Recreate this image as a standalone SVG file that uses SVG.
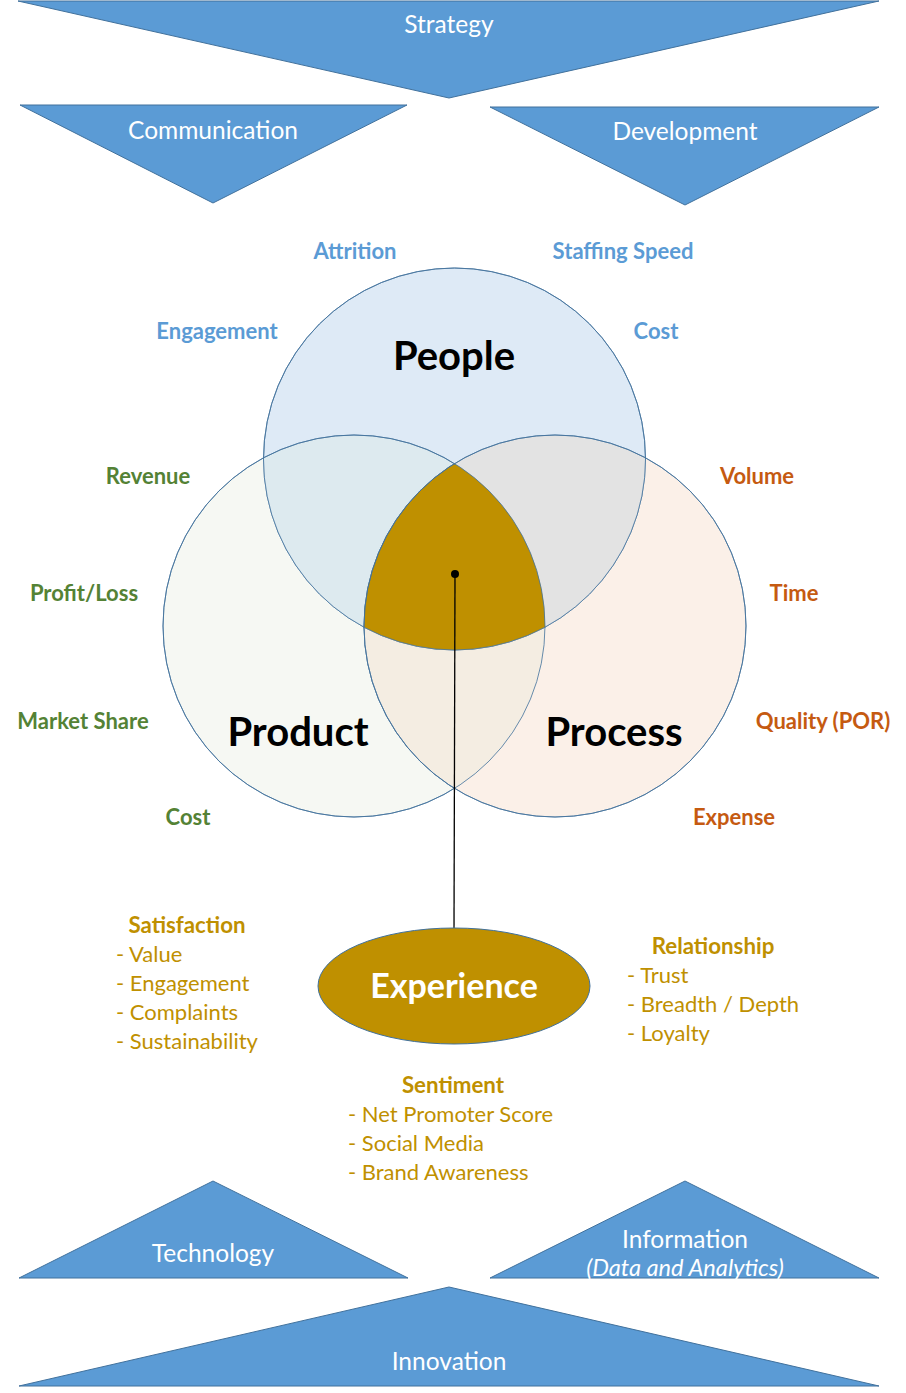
<svg xmlns="http://www.w3.org/2000/svg" width="906" height="1393" viewBox="0 0 906 1393">
<style>
text{font-family:Lato,"Open Sans","Liberation Sans",sans-serif}
.tri{fill:#5B9BD5;stroke:#41719C;stroke-width:1}
.tw{fill:#fff;font-size:24.5px;text-anchor:middle}
.sub{font-size:23.6px;font-style:italic}
.big{fill:#000;font-size:40px;font-weight:bold;text-anchor:middle}
.blue{fill:#5B9BD5;font-size:22px;font-weight:bold;text-anchor:middle}
.green{fill:#548235;font-size:22px;font-weight:bold;text-anchor:middle}
.orange{fill:#C55A11;font-size:22px;font-weight:bold;text-anchor:middle}
.gh{fill:#BF9000;font-size:22.3px;font-weight:bold;text-anchor:middle}
.gi{fill:#BF9000;font-size:22px}
.circ{stroke:#41719C;stroke-width:0.8}
</style>
<defs>
<clipPath id="cPeople"><circle cx="454.5" cy="459" r="191"/></clipPath>
<clipPath id="cProduct"><circle cx="354" cy="626" r="191"/></clipPath>
<clipPath id="cProcess"><circle cx="555" cy="626" r="191"/></clipPath>
</defs>
<g id="strategy"><polygon class="tri" points="18,1 879,1 449,98"/><text class="tw" x="449" y="33">Strategy</text></g>
<g id="communication"><polygon class="tri" points="20,105 407,105 213,203"/><text class="tw" x="213" y="139">Communication</text></g>
<g id="development"><polygon class="tri" points="490,107 879,107 685,205"/><text class="tw" x="685" y="140">Development</text></g>
<g id="venn">
<circle id="product" class="circ" cx="354" cy="626" r="191" fill="#F6F8F3"/>
<circle id="process" class="circ" cx="555" cy="626" r="191" fill="#FBF0E8"/>
<circle class="circ" cx="555" cy="626" r="191" fill="#F4EDE2" clip-path="url(#cProduct)"/>
<circle id="people" class="circ" cx="454.5" cy="459" r="191" fill="#DEEAF6"/>
<g clip-path="url(#cPeople)">
<circle class="circ" cx="354" cy="626" r="191" fill="#DDEAEF"/>
<circle class="circ" cx="555" cy="626" r="191" fill="#E3E3E3"/>
</g>
<g clip-path="url(#cPeople)"><circle cx="555" cy="626" r="191" fill="#BF9000" stroke="#41719C" stroke-width="0.8" clip-path="url(#cProduct)"/></g>
<circle cx="454.5" cy="459" r="191" fill="none" class="circ"/>
<circle cx="354" cy="626" r="191" fill="none" class="circ"/>
<circle cx="555" cy="626" r="191" fill="none" class="circ"/>
<text class="big" x="454" y="370">People</text>
<text class="big" x="298" y="746">Product</text>
<text class="big" x="614" y="746">Process</text>
</g>
<g id="people-labels">
<text class="blue" x="355" y="259">Attrition</text>
<text class="blue" x="623" y="259">Staffing Speed</text>
<text class="blue" x="217" y="339">Engagement</text>
<text class="blue" x="656" y="339">Cost</text>
</g>
<g id="product-labels">
<text class="green" x="148" y="484">Revenue</text>
<text class="green" x="84" y="601">Profit/Loss</text>
<text class="green" x="83" y="729">Market Share</text>
<text class="green" x="188" y="825">Cost</text>
</g>
<g id="process-labels">
<text class="orange" x="757" y="484">Volume</text>
<text class="orange" x="794" y="601">Time</text>
<text class="orange" x="823" y="729">Quality (POR)</text>
<text class="orange" x="734" y="825">Expense</text>
</g>
<g id="connectors">
<line x1="455" y1="574" x2="454" y2="928" stroke="#000" stroke-width="1.3"/>
<circle cx="455" cy="574" r="4" fill="#000"/>
</g>
<g id="experience">
<ellipse cx="454" cy="986" rx="136" ry="58" fill="#BF9000" stroke="#41719C" stroke-width="1"/>
<text x="454" y="998" fill="#fff" font-size="34" font-weight="bold" text-anchor="middle">Experience</text>
</g>
<g id="satisfaction">
<text class="gh" x="187" y="933">Satisfaction</text>
<text class="gi" x="116" y="962">- Value</text>
<text class="gi" x="116" y="991">- Engagement</text>
<text class="gi" x="116" y="1020">- Complaints</text>
<text class="gi" x="116" y="1049">- Sustainability</text>
</g>
<g id="relationship">
<text class="gh" x="713" y="954">Relationship</text>
<text class="gi" x="627" y="983">- Trust</text>
<text class="gi" x="627" y="1012">- Breadth / Depth</text>
<text class="gi" x="627" y="1041">- Loyalty</text>
</g>
<g id="sentiment">
<text class="gh" x="453" y="1093">Sentiment</text>
<text class="gi" x="348" y="1122">- Net Promoter Score</text>
<text class="gi" x="348" y="1151">- Social Media</text>
<text class="gi" x="348" y="1180">- Brand Awareness</text>
</g>
<g id="technology"><polygon class="tri" points="19,1278 408,1278 213,1181"/><text class="tw" x="213" y="1262">Technology</text></g>
<g id="information"><polygon class="tri" points="490,1278 879,1278 685,1181"/><text class="tw" x="685" y="1248">Information</text><text class="tw sub" x="685" y="1276">(Data and Analytics)</text></g>
<g id="innovation"><polygon class="tri" points="19,1386 879,1386 449,1287"/><text class="tw" x="449" y="1370">Innovation</text></g>
</svg>
